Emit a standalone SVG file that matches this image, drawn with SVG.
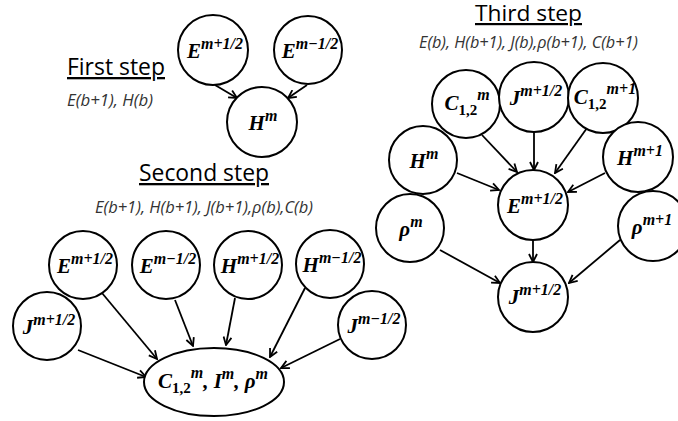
<svg xmlns="http://www.w3.org/2000/svg" width="678" height="421" viewBox="0 0 678 421">
<style>
.bg{fill:#fff}
.c{fill:#fff;stroke:#000;stroke-width:2}
.a{stroke:#000;stroke-width:1.8;fill:none;marker-end:url(#ah)}
.t{font-family:"Open Sans","Liberation Sans",sans-serif;font-size:23px;fill:#000;text-decoration:underline}
.s{font-family:"Open Sans","Liberation Sans",sans-serif;font-size:16px;font-style:italic;fill:#333}
.l{font-family:"Liberation Serif","DejaVu Serif",serif;font-size:21px;font-weight:bold;font-style:italic;fill:#000;text-anchor:middle}
.p{font-size:16px}
.b{font-size:15px;font-style:normal}
</style>
<defs>
<marker id="ah" viewBox="0 0 10 10" refX="9" refY="5" markerWidth="10" markerHeight="10" markerUnits="userSpaceOnUse" orient="auto">
<path d="M1,1 L9,5 L1,9" fill="none" stroke="#000" stroke-width="1.8"/>
</marker>
</defs>
<rect class="bg" x="0" y="0" width="678" height="421"/>

<text class="t" x="67" y="75" textLength="98" lengthAdjust="spacingAndGlyphs">First step</text>
<text class="s" x="67" y="106" textLength="86" lengthAdjust="spacingAndGlyphs">E(b+1), H(b)</text>
<text class="t" x="139" y="181" textLength="130" lengthAdjust="spacingAndGlyphs">Second step</text>
<text class="s" x="95" y="213" textLength="218" lengthAdjust="spacingAndGlyphs">E(b+1), H(b+1), J(b+1),ρ(b),C(b)</text>
<text class="t" x="475" y="21" style="font-size:22px" textLength="107" lengthAdjust="spacingAndGlyphs">Third step</text>
<text class="s" x="419" y="48" textLength="219" lengthAdjust="spacingAndGlyphs">E(b), H(b+1), J(b),ρ(b+1), C(b+1)</text>

<g id="connectors">
<line class="a" x1="215" y1="85" x2="237" y2="98"/>
<line class="a" x1="307" y1="85" x2="288" y2="98"/>

<line class="a" x1="102" y1="293" x2="157" y2="359"/>
<line class="a" x1="175" y1="300" x2="193" y2="346"/>
<line class="a" x1="235" y1="298" x2="226" y2="345"/>
<line class="a" x1="305" y1="288" x2="270" y2="357"/>
<line class="a" x1="340" y1="339" x2="281" y2="368"/>
<line class="a" x1="78" y1="350" x2="146" y2="377"/>

<line class="a" x1="482" y1="135" x2="517" y2="172"/>
<line class="a" x1="534" y1="132" x2="534" y2="170"/>
<line class="a" x1="587" y1="128" x2="555" y2="173"/>
<line class="a" x1="457" y1="173" x2="499" y2="190"/>
<line class="a" x1="605" y1="173" x2="568" y2="192"/>
<line class="a" x1="533" y1="240" x2="533" y2="262"/>
<line class="a" x1="440" y1="250" x2="500" y2="283"/>
<line class="a" x1="620" y1="240" x2="569" y2="283"/>
</g>

<g id="s1-E-plus"><circle class="c" cx="213" cy="50" r="35"/><text class="l" x="215" y="58">E<tspan class="p" dy="-9">m+1/2</tspan></text></g>
<g id="s1-E-minus"><circle class="c" cx="308" cy="50" r="34"/><text class="l" x="310" y="58">E<tspan class="p" dy="-9">m−1/2</tspan></text></g>
<g id="s1-H"><circle class="c" cx="262" cy="122" r="35"/><text class="l" x="263" y="130">H<tspan class="p" dy="-9">m</tspan></text></g>

<g id="s2-E-plus"><circle class="c" cx="83" cy="265" r="34"/><text class="l" x="85" y="273">E<tspan class="p" dy="-9">m+1/2</tspan></text></g>
<g id="s2-E-minus"><circle class="c" cx="166" cy="265" r="34"/><text class="l" x="168" y="273">E<tspan class="p" dy="-9">m−1/2</tspan></text></g>
<g id="s2-H-plus"><circle class="c" cx="248" cy="265" r="34"/><text class="l" x="250" y="273">H<tspan class="p" dy="-9">m+1/2</tspan></text></g>
<g id="s2-H-minus"><circle class="c" cx="330" cy="264" r="34"/><text class="l" x="332" y="272">H<tspan class="p" dy="-9">m−1/2</tspan></text></g>
<g id="s2-J-plus"><circle class="c" cx="47" cy="326" r="34"/><text class="l" x="49" y="334">J<tspan class="p" dy="-9">m+1/2</tspan></text></g>
<g id="s2-J-minus"><circle class="c" cx="372" cy="325" r="34"/><text class="l" x="374" y="333">J<tspan class="p" dy="-9">m−1/2</tspan></text></g>
<g id="s2-result"><ellipse class="c" cx="214" cy="382" rx="70" ry="34"/><text class="l" x="213" y="388">C<tspan class="b" dy="5">1,2</tspan><tspan class="p" dy="-15">m</tspan><tspan dy="10">, I</tspan><tspan class="p" dy="-9">m</tspan><tspan dy="9">, ρ</tspan><tspan class="p" dy="-9">m</tspan></text></g>

<g id="s3-C-m"><circle class="c" cx="466" cy="104" r="34"/><text class="l" x="467" y="110">C<tspan class="b" dy="5">1,2</tspan><tspan class="p" dy="-15">m</tspan></text></g>
<g id="s3-J-top"><circle class="c" cx="534" cy="97" r="35"/><text class="l" x="536" y="105">J<tspan class="p" dy="-9">m+1/2</tspan></text></g>
<g id="s3-C-m1"><circle class="c" cx="603" cy="98" r="35"/><text class="l" x="605" y="104">C<tspan class="b" dy="5">1,2</tspan><tspan class="p" dy="-15">m+1</tspan></text></g>
<g id="s3-H-m"><circle class="c" cx="423" cy="160" r="34"/><text class="l" x="424" y="168">H<tspan class="p" dy="-9">m</tspan></text></g>
<g id="s3-H-m1"><circle class="c" cx="638" cy="157" r="35"/><text class="l" x="640" y="165">H<tspan class="p" dy="-9">m+1</tspan></text></g>
<g id="s3-E"><circle class="c" cx="533" cy="205" r="35"/><text class="l" x="535" y="213">E<tspan class="p" dy="-9">m+1/2</tspan></text></g>
<g id="s3-rho-m"><circle class="c" cx="410" cy="228" r="34"/><text class="l" x="411" y="236">ρ<tspan class="p" dy="-9">m</tspan></text></g>
<g id="s3-rho-m1"><circle class="c" cx="653" cy="226" r="35"/><text class="l" x="652" y="234">ρ<tspan class="p" dy="-9">m+1</tspan></text></g>
<g id="s3-J-bottom"><circle class="c" cx="533" cy="297" r="35"/><text class="l" x="535" y="304">J<tspan class="p" dy="-9">m+1/2</tspan></text></g>
</svg>
